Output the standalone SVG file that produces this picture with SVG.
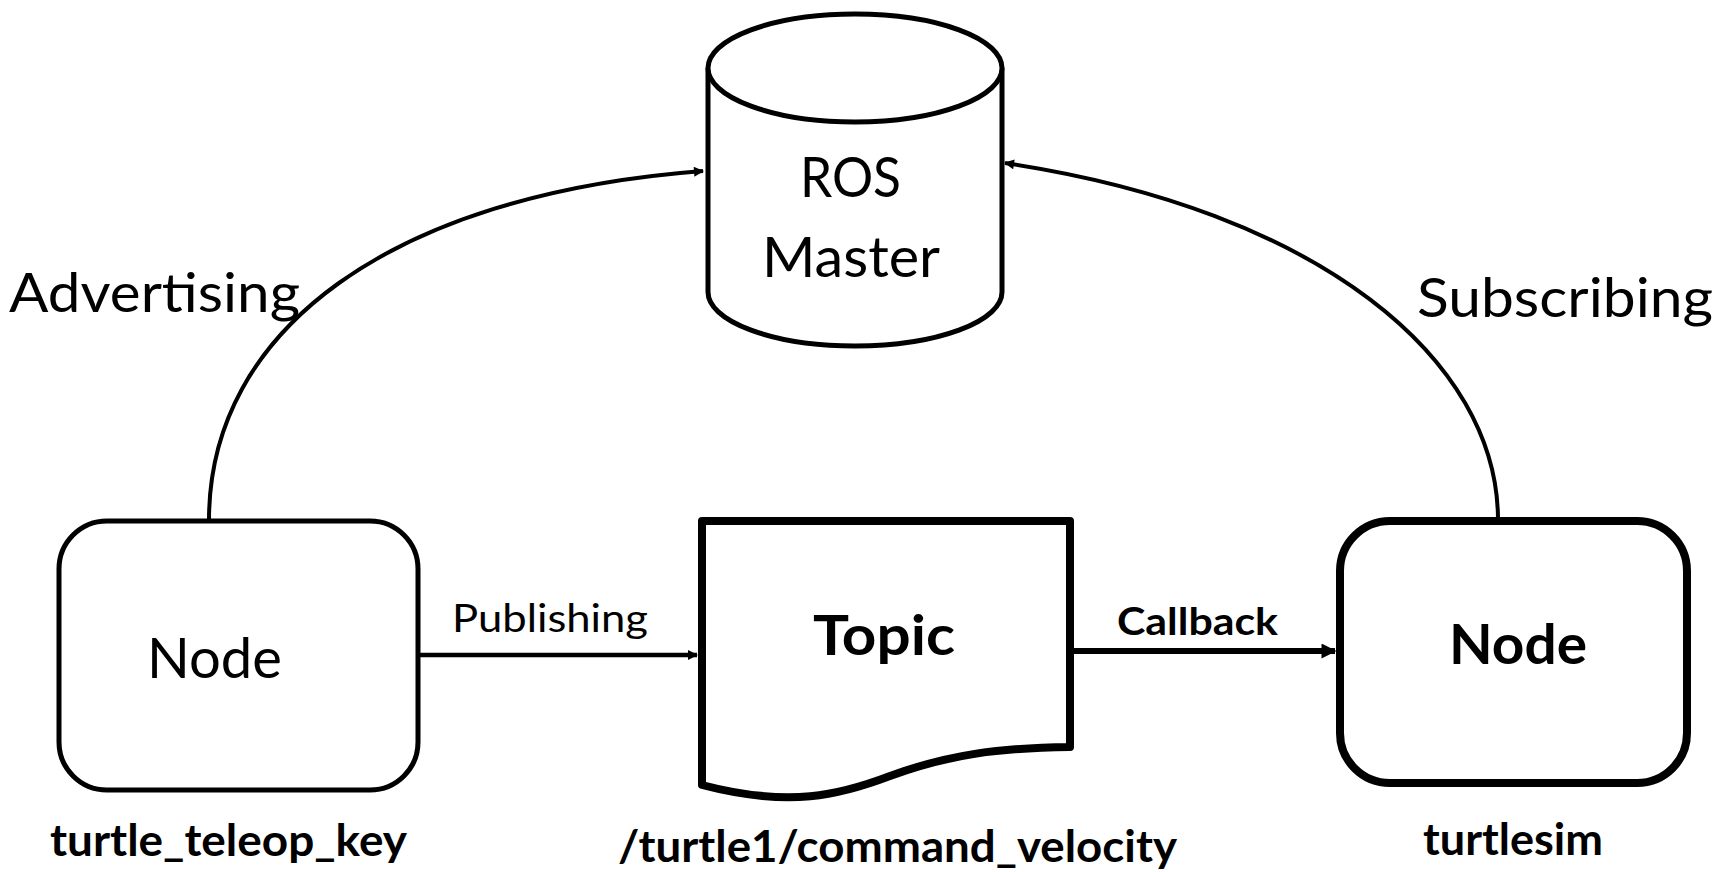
<svg xmlns="http://www.w3.org/2000/svg" width="1719" height="872" viewBox="0 0 1719 872">
<style>
.shape{fill:#fff;stroke:#000;stroke-linejoin:round}
.conn{fill:none;stroke:#000}
.t{font-family:Lato,"Open Sans","Liberation Sans",sans-serif;fill:#000}
.b{font-weight:bold}
</style>
<defs>
<marker id="ah" viewBox="0 0 10 10" refX="9" refY="5" markerUnits="userSpaceOnUse" markerWidth="12" markerHeight="10" orient="auto">
<path d="M0,0 L10,5 L0,10 z" fill="#000"/>
</marker>
<marker id="ahb" viewBox="0 0 10 10" refX="9" refY="5" markerUnits="userSpaceOnUse" markerWidth="16" markerHeight="15" orient="auto">
<path d="M0,0 L10,5 L0,10 z" fill="#000"/>
</marker>
</defs>
<rect width="1719" height="872" fill="#fff"/>

<g id="connectors">
<path class="conn" d="M209,520 C209,330 390,195 703,171" stroke-width="4" marker-end="url(#ah)"/>
<path class="conn" d="M1498,520 C1498,360 1320,210 1005,163" stroke-width="4" marker-end="url(#ah)"/>
<path class="conn" d="M420,655 L697,655" stroke-width="4.5" marker-end="url(#ah)"/>
<path class="conn" d="M1074,651 L1335,651" stroke-width="6" marker-end="url(#ahb)"/>
<text class="t" x="9" y="312" font-size="55" textLength="291" lengthAdjust="spacingAndGlyphs">Advertising</text>
<text class="t" x="1417" y="317" font-size="55" textLength="296" lengthAdjust="spacingAndGlyphs">Subscribing</text>
<text class="t" x="452" y="632" font-size="39" textLength="196" lengthAdjust="spacingAndGlyphs">Publishing</text>
<text class="t b" x="1117" y="635" font-size="38" textLength="161" lengthAdjust="spacingAndGlyphs">Callback</text>
</g>

<g id="ros-master">
<path class="shape" d="M708,68 L708,292 A147,54 0 0 0 1002,292 L1002,68" stroke-width="5"/>
<ellipse class="shape" cx="855" cy="68" rx="147" ry="54" stroke-width="5"/>
<text class="t" x="800" y="197" font-size="56" textLength="101" lengthAdjust="spacingAndGlyphs">ROS</text>
<text class="t" x="762" y="277" font-size="56" textLength="178" lengthAdjust="spacingAndGlyphs">Master</text>
</g>

<g id="node-teleop">
<rect class="shape" x="59" y="521" width="359" height="269" rx="48" ry="48" stroke-width="5"/>
<text class="t" x="147" y="678" font-size="57" textLength="135" lengthAdjust="spacingAndGlyphs">Node</text>
<text class="t b" x="50" y="856" font-size="43" textLength="357" lengthAdjust="spacingAndGlyphs">turtle_teleop_key</text>
</g>

<g id="topic">
<path class="shape" d="M702,521 L1070,521 L1070,747 C1000,748 950,754 890,776 C840,795 790,808 702,785 Z" stroke-width="8" stroke-linejoin="miter"/>
<text class="t b" x="813" y="655" font-size="56" textLength="142" lengthAdjust="spacingAndGlyphs">Topic</text>
<text class="t b" x="618" y="862" font-size="43" textLength="559" lengthAdjust="spacingAndGlyphs">/turtle1/command_velocity</text>
</g>

<g id="node-turtlesim">
<rect class="shape" x="1340" y="521" width="347" height="262" rx="50" ry="50" stroke-width="8"/>
<text class="t b" x="1449" y="664" font-size="55" textLength="138" lengthAdjust="spacingAndGlyphs">Node</text>
<text class="t b" x="1423" y="855" font-size="43" textLength="180" lengthAdjust="spacingAndGlyphs">turtlesim</text>
</g>
</svg>
